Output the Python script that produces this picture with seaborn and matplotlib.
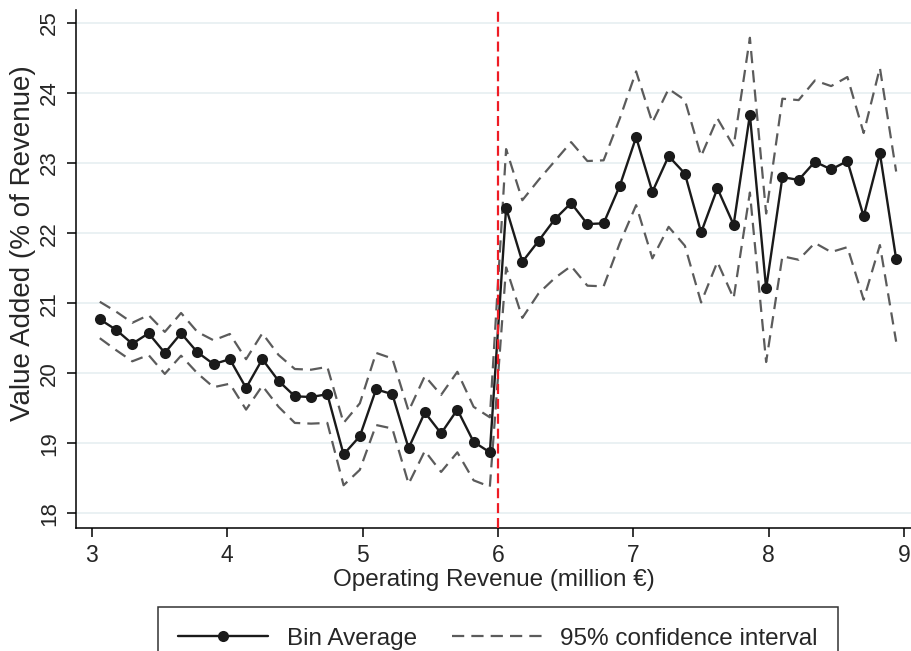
import numpy as np
import pandas as pd
import matplotlib
matplotlib.use("Agg")
import matplotlib.pyplot as plt
import seaborn as sns

# Bin centres (million €)
bin_centers = [3.06, 3.18, 3.30, 3.42, 3.54, 3.66, 3.78, 3.90, 4.02, 4.14,
               4.26, 4.38, 4.50, 4.62, 4.74, 4.86, 4.98, 5.10, 5.22, 5.34,
               5.46, 5.58, 5.70, 5.82, 5.94,
               6.06, 6.18, 6.30, 6.42, 6.54, 6.66, 6.78, 6.90, 7.02, 7.14,
               7.26, 7.38, 7.50, 7.62, 7.74, 7.86, 7.98, 8.10, 8.22, 8.34,
               8.46, 8.58, 8.70, 8.82, 8.94]

bin_average = [20.77, 20.62, 20.42, 20.57, 20.29, 20.57, 20.30, 20.13, 20.20, 19.79,
               20.20, 19.89, 19.67, 19.66, 19.70, 18.84, 19.10, 19.77, 19.70, 18.93,
               19.44, 19.14, 19.48, 19.02, 18.87,
               22.36, 21.59, 21.89, 22.20, 22.43, 22.13, 22.14, 22.68, 23.37, 22.59,
               23.10, 22.85, 22.01, 22.64, 22.12, 23.69, 21.21, 22.80, 22.76, 23.02,
               22.91, 23.03, 22.24, 23.14, 21.63]

ci_upper = [21.02, 20.88, 20.72, 20.83, 20.59, 20.86, 20.59, 20.47, 20.56, 20.20,
            20.57, 20.26, 20.06, 20.05, 20.09, 19.29, 19.57, 20.29, 20.21, 19.46,
            19.96, 19.69, 20.02, 19.52, 19.37,
            23.20, 22.47, 22.76, 23.03, 23.30, 23.03, 23.04, 23.64, 24.31, 23.58,
            24.06, 23.90, 23.10, 23.64, 23.24, 24.79, 22.28, 23.92, 23.90, 24.18,
            24.10, 24.23, 23.43, 24.36, 22.88]

ci_lower = [20.50, 20.33, 20.17, 20.26, 19.99, 20.25, 20.00, 19.80, 19.85, 19.48,
            19.82, 19.52, 19.29, 19.28, 19.29, 18.40, 18.62, 19.26, 19.21, 18.42,
            18.89, 18.59, 18.87, 18.47, 18.38,
            21.51, 20.79, 21.14, 21.36, 21.53, 21.25, 21.24, 21.86, 22.40, 21.64,
            22.09, 21.82, 21.01, 21.59, 21.07, 22.58, 20.16, 21.67, 21.62, 21.86,
            21.73, 21.80, 21.05, 21.83, 20.45]

cutoff = 6
x_ticks = [3, 4, 5, 6, 7, 8, 9]
y_ticks = [18, 19, 20, 21, 22, 23, 24, 25]

df = pd.DataFrame({"x": bin_centers, "mean": bin_average,
                   "hi": ci_upper, "lo": ci_lower})

sns.set_theme(style="white")
plt.rcParams["font.family"] = ["Liberation Sans", "DejaVu Sans"]

fig = plt.figure(figsize=(9.12, 6.51), dpi=100)
ax = fig.add_axes([0.0833, 0.189, 0.9167, 0.796])

grid_col = "#e8f0f2"
for yt in y_ticks:
    ax.axhline(yt, color=grid_col, lw=1.3, zorder=0)

ci_col = "#5b5b5b"
sns.lineplot(data=df, x="x", y="hi", ax=ax, color=ci_col, lw=1.6,
             linestyle=(0, (5.5, 3.2)), label="95% confidence interval", zorder=2)
sns.lineplot(data=df, x="x", y="lo", ax=ax, color=ci_col, lw=1.6,
             linestyle=(0, (5.5, 3.2)), label="_nolegend_", zorder=2)
sns.lineplot(data=df, x="x", y="mean", ax=ax, color="#1a1a1a", lw=1.7,
             marker="o", markersize=8, markeredgewidth=0,
             label="Bin Average", zorder=3)

ax.axvline(cutoff, color="#ee1c25", lw=1.6, linestyle=(0, (4.5, 2.2)), zorder=4)

ax.set_xlim(2.884, 9.057)
ax.set_ylim(17.79, 25.19)
ax.set_xticks(x_ticks)
ax.set_yticks(y_ticks)
ax.set_xticklabels([str(t) for t in x_ticks], fontsize=16.5)
ax.set_yticklabels([str(t) for t in y_ticks], fontsize=16, rotation=90,
                   va="center")
ax.tick_params(axis="both", direction="out", length=6.5, width=1.1,
               color="black", pad=5, left=True, bottom=True)

ax.set_xlabel("Operating Revenue (million €)", fontsize=17.5)
ax.xaxis.set_label_coords(0.5, -0.079)
ax.xaxis.label.set_verticalalignment("top")

ax.set_ylabel("Value Added (% of Revenue)", fontsize=20)
ax.yaxis.set_label_coords(-0.063, 0.55)
ax.yaxis.label.set_verticalalignment("center")

for s in ["top", "right"]:
    ax.spines[s].set_visible(False)
for s in ["left", "bottom"]:
    ax.spines[s].set_color("black")
    ax.spines[s].set_linewidth(1.1)

handles, labels = ax.get_legend_handles_labels()
order = [labels.index("Bin Average"), labels.index("95% confidence interval")]
ax.get_legend().remove()
leg = fig.legend([handles[i] for i in order], [labels[i] for i in order],
                 loc="upper center", bbox_to_anchor=(0.546, 0.0676),
                 ncol=2, fontsize=17.5, frameon=True, fancybox=False,
                 edgecolor="black", handlelength=3.7, columnspacing=1.45,
                 borderpad=0.85, handletextpad=0.75, borderaxespad=0)
leg.get_frame().set_linewidth(1.1)

fig.savefig("out.png", dpi=100)
